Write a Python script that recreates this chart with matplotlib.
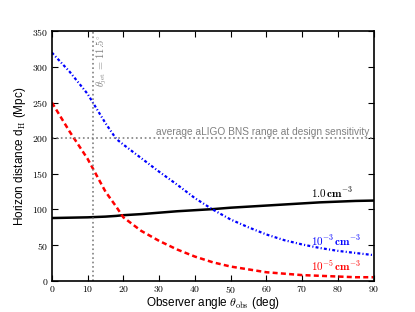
import matplotlib
matplotlib.use("Agg")
import matplotlib.pyplot as plt
from matplotlib.ticker import FuncFormatter, MultipleLocator

plt.rcParams['mathtext.fontset'] = 'cm'

angles = [0, 5, 10, 15, 18, 20, 25, 30, 35, 40, 45, 50, 55, 60, 65, 70, 75, 80, 85, 90]
d_dense = [88, 88.5, 89, 90, 91, 92, 93.5, 95.5, 97.5, 99, 100.5, 102.5, 104, 105.5, 107, 108.5, 110, 111, 112, 112.5]
d_1e3 = [320, 293, 262, 221, 199, 191, 172, 153, 135, 116, 100, 86, 75, 65, 57, 51, 46, 42, 39, 36]
d_1e5 = [250, 209, 171, 125, 104, 89, 70, 56, 44, 34, 26, 20, 16, 12, 10, 8, 7, 6, 5, 5]

theta_jet = 11.5
bns_range = 200

fig = plt.figure(figsize=(4.15, 3.12), dpi=100)
ax = fig.add_axes([0.125, 0.1, 0.775, 0.8])

ax.plot(angles, d_dense, color='black', lw=1.8, ls='-')
ax.plot(angles, d_1e3, color='blue', lw=1.6, ls=(0, (1.3, 1.0, 0.5, 1.0)))
ax.plot(angles, d_1e5, color='red', lw=1.8, ls=(0, (2.0, 1.3)))

ax.axvline(theta_jet, color='gray', ls=':', lw=1.2)
ax.axhline(bns_range, color='gray', ls=':', lw=1.2)

sans = ['Liberation Sans', 'DejaVu Sans']
ax.text(88.8, bns_range + 2, 'average aLIGO BNS range at design sensitivity',
        ha='right', va='bottom', color='gray', fontsize=7.3, family=sans)
ax.text(11.9, 272, r'$\theta_{\rm jet}\,=\,11.5^{\circ}$', rotation=90,
        ha='left', va='bottom', color='gray', fontsize=7.5)

ax.text(72.5, 114, r'$\mathbf{1.0\,cm^{-3}}$', color='black', fontsize=8, ha='left', va='bottom')
ax.text(72.5, 46, r'$\mathbf{10^{-3}\,cm^{-3}}$', color='blue', fontsize=8, ha='left', va='bottom')
ax.text(72.5, 10, r'$\mathbf{10^{-5}\,cm^{-3}}$', color='red', fontsize=8, ha='left', va='bottom')

ax.set_xlim(0, 90)
ax.set_ylim(0, 350)
ax.xaxis.set_major_locator(MultipleLocator(10))
ax.yaxis.set_major_locator(MultipleLocator(50))
fmt = FuncFormatter(lambda v, p: r'$%d$' % v)
ax.xaxis.set_major_formatter(fmt)
ax.yaxis.set_major_formatter(fmt)
ax.tick_params(direction='in', top=True, right=True, labelsize=7, length=4, width=0.8, pad=2.5)
for s in ax.spines.values():
    s.set_linewidth(1.2)

ax.set_xlabel(r'Observer angle $\theta_{\rm obs}$ (deg)', fontsize=8.5, family=sans, labelpad=0)
ax.set_ylabel(r'Horizon distance d$_{\rm H}$ (Mpc)', fontsize=8.5, family=sans, labelpad=3)

fig.savefig('out.png', dpi=100)
